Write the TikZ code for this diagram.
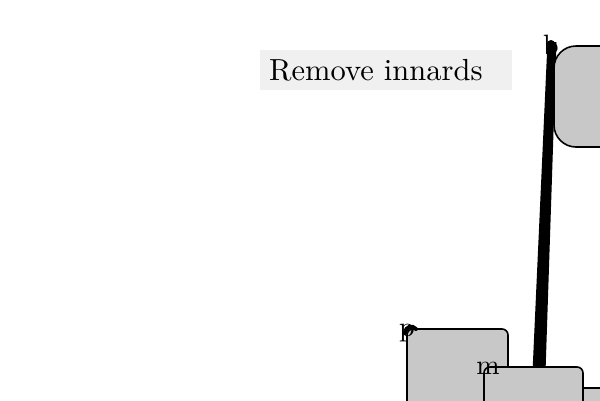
\documentclass[tikz,border=0pt]{standalone}
\usepackage{graphicx}
\usepackage{xcolor}
\definecolor{boxgray}{HTML}{C8C8C8}
\definecolor{titlegray}{HTML}{F0F0F0}
\newcommand{\biglbl}[1]{\scalebox{2.8}{#1}}
\tikzset{
  graybox/.style={draw=black, line width=1.6pt, fill=boxgray},
  lbl/.style={inner sep=0pt},
}
\begin{document}
\begin{tikzpicture}[x=1pt, y=-1pt]
\clip (0,0) rectangle (600,400);
\fill[white] (0,0) rectangle (600,400);
% title
\node[fill=titlegray, minimum width=252pt, minimum height=40pt, inner sep=0pt, anchor=north west] (title) at (260,50) {};
\node[anchor=base west, inner sep=0pt] (titletext) at (269,80) {\scalebox{3.05}{Remove innards}};
% thick connector
\coordinate (top) at (552,42);
\coordinate (bot) at (539,372);
\fill[black] (547.5,42) -- (556.5,42) -- (545.5,372) -- (532.5,372) -- cycle;
% boxes
\draw[graybox, rounded corners=22pt] (640,46) -- (554,46) -- (554,147) -- (640,147);
\draw[graybox, rounded corners=6pt] (407,420) -- (407,329) -- (508,329) -- (508,420);
\draw[graybox] (583,420) -- (583,388) -- (640,388);
\draw[graybox, rounded corners=6pt] (484,420) -- (484,367) -- (583,367) -- (583,420);
% blobs
\draw[line width=4pt, line cap=round] (405,333) .. controls (406,326) and (412,325) .. (416,329);
\fill (551,44) circle (4pt);
% labels
\node[lbl] (b) at (551,45) {\biglbl{b}};
\node[lbl] (p) at (407,333) {\biglbl{p}};
\node[lbl] (m) at (488,368) {\biglbl{m}};
\end{tikzpicture}
\end{document}
